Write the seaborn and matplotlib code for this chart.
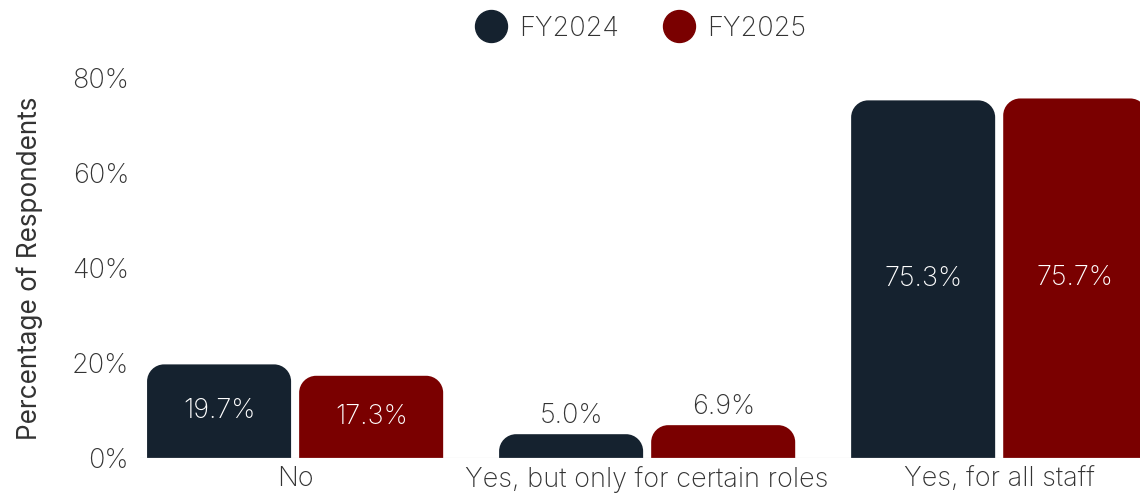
import matplotlib
matplotlib.use("Agg")
import matplotlib.pyplot as plt
import seaborn as sns
import pandas as pd
from matplotlib.path import Path
from matplotlib.patches import PathPatch
from matplotlib.lines import Line2D

categories = ["No", "Yes, but only for certain roles", "Yes, for all staff"]
years = ["FY2024", "FY2025"]
fy2024 = [19.7, 5.0, 75.3]
fy2025 = [17.3, 6.9, 75.7]
colors = ["#15222f", "#7a0000"]
yticks = [0, 20, 40, 60, 80]

df = pd.DataFrame({
    "category": categories * 2,
    "year": [years[0]] * 3 + [years[1]] * 3,
    "value": fy2024 + fy2025,
})

sns.set_theme(style="white")
plt.rcParams["font.family"] = ["Inter", "DejaVu Sans"]
plt.rcParams["font.weight"] = "light"
text_color = "#333333"
fs = 19.5

fig = plt.figure(figsize=(11.4, 4.94), dpi=100)
ax = fig.add_axes([0.123, 0.073, 0.877, 0.769])

sns.barplot(data=df, x="category", y="value", hue="year", palette=colors,
            width=0.864, gap=0.053, ax=ax, legend=False, saturation=1)

ax.set_ylim(0, 80)
ax.set_xlim(-0.44, 2.40)

# Swap plain rectangles for bars with rounded top corners
fig.canvas.draw()
to_px = ax.transData
rad_px = 17
for patch, val in zip(list(ax.patches), fy2024 + fy2025):
    x0, y0 = patch.get_x(), patch.get_y()
    w, h = patch.get_width(), patch.get_height()
    fc = patch.get_facecolor()
    patch.remove()
    (px0, py0) = to_px.transform((x0, y0))
    (px1, py1) = to_px.transform((x0 + w, y0 + h))
    r = min(rad_px, (py1 - py0), (px1 - px0) / 2)
    k = 0.5523
    verts = [
        (px0, py0), (px0, py1 - r),
        (px0, py1 - r + r * k), (px0 + r - r * k, py1), (px0 + r, py1),
        (px1 - r, py1),
        (px1 - r + r * k, py1), (px1, py1 - r + r * k), (px1, py1 - r),
        (px1, py0), (px0, py0),
    ]
    codes = [Path.MOVETO, Path.LINETO,
             Path.CURVE4, Path.CURVE4, Path.CURVE4,
             Path.LINETO,
             Path.CURVE4, Path.CURVE4, Path.CURVE4,
             Path.LINETO, Path.CLOSEPOLY]
    inv = to_px.inverted()
    dverts = inv.transform(verts)
    ax.add_patch(PathPatch(Path(dverts, codes), facecolor=fc, edgecolor="none"))
    cx = x0 + w / 2
    label = f"{val:.1f}%"
    if val > 12:
        ax.text(cx, val / 2, label, ha="center", va="center", color="white", fontsize=fs)
    else:
        ax.text(cx, val + 1.0, label, ha="center", va="bottom", color=text_color, fontsize=fs)

ax.axhline(0, color="#bbbbbb", lw=0.8)

ax.set_yticks(yticks)
ax.set_yticklabels([f"{t}%" for t in yticks], fontsize=fs, color=text_color)
ax.tick_params(axis="x", labelsize=fs, labelcolor=text_color, pad=6, length=0)
ax.tick_params(axis="y", length=0, pad=8)
ax.set_xlabel("")
ax.set_ylabel("Percentage of Respondents", fontsize=18.8, color=text_color, labelpad=21)
sns.despine(ax=ax, left=True, bottom=True)

handles = [Line2D([0], [0], marker="o", linestyle="none", markersize=23,
                  markerfacecolor=c, markeredgecolor=c) for c in colors]
fig.legend(handles, years, loc="center", bbox_to_anchor=(0.557, 0.942), ncol=2,
           frameon=False, fontsize=fs, labelcolor=text_color, handletextpad=0.05,
           columnspacing=1.2)

fig.savefig("out.png", dpi=100)
